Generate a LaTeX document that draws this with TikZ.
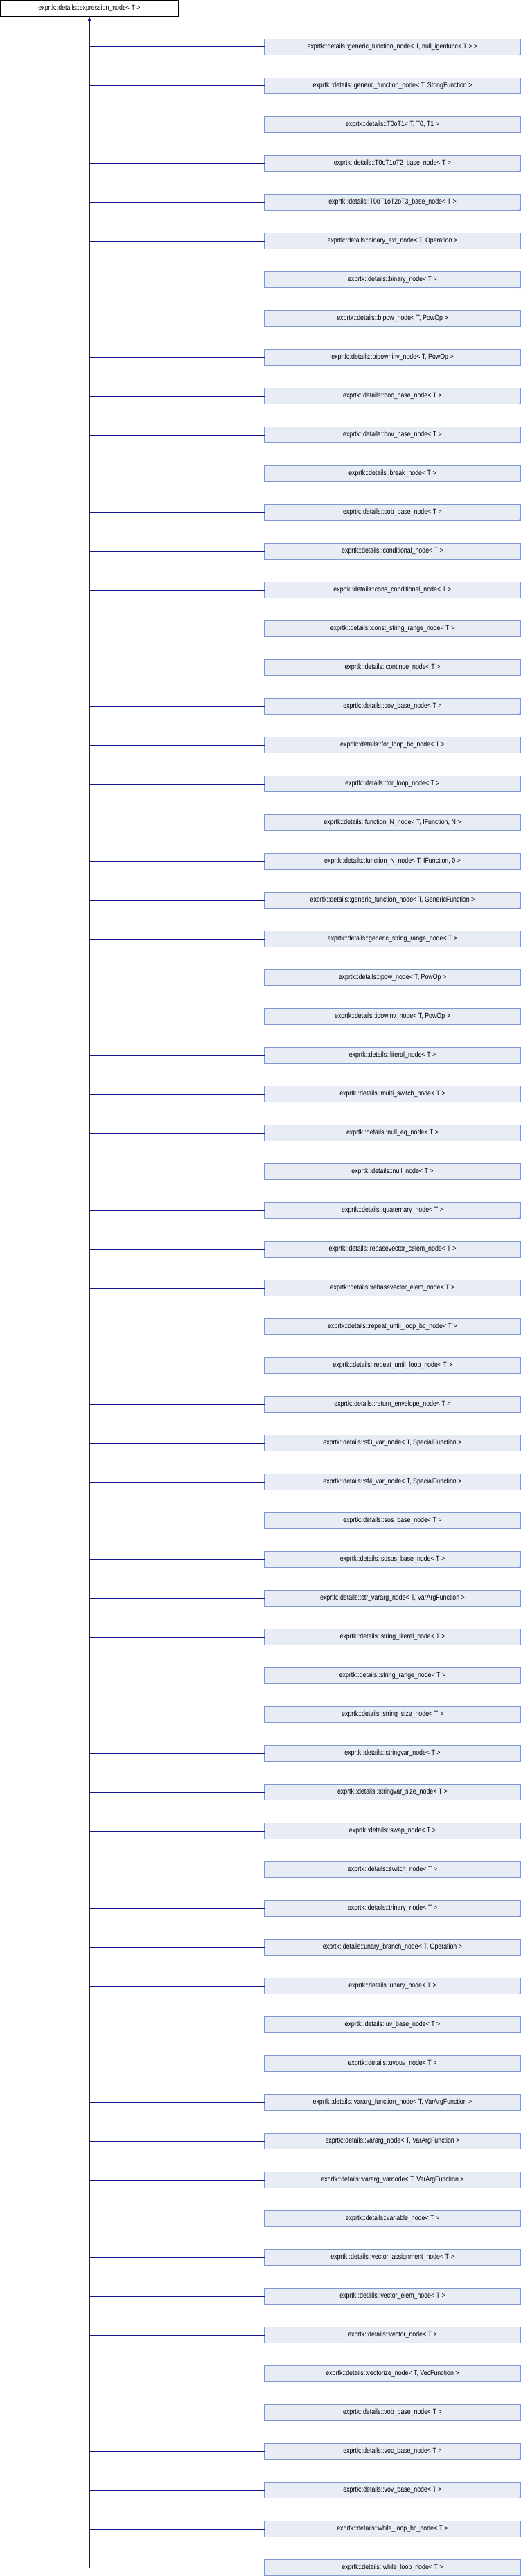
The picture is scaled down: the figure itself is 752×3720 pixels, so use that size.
\documentclass[tikz,border=0pt]{standalone}
\usepackage{fontspec}
\setmainfont{Liberation Sans}[FakeStretch=0.84]
\usetikzlibrary{arrows.meta}
\definecolor{clsfill}{RGB}{232,236,245}
\definecolor{clsborder}{RGB}{128,150,204}
\definecolor{linkblue}{RGB}{20,20,140}
\begin{document}
\begin{tikzpicture}[x=1pt,y=-1pt,line cap=rect,
    basebox/.style={draw=black,fill=white,line width=1pt,minimum width=257pt,minimum height=23pt,inner sep=0pt,font=\fontsize{10.5}{12}\selectfont},
    clsbox/.style={draw=clsborder,fill=clsfill,line width=1pt,minimum width=370pt,minimum height=23pt,inner sep=0pt,font=\fontsize{10.5}{12}\selectfont},
    link/.style={draw=linkblue,line width=1pt}]
  \useasboundingbox (0,0) rectangle (752,3720);
  \node[basebox] (expr) at (129,12) {exprtk::details::expression\_node< T >};
  \foreach \lab/\more [count=\i] in {
      {generic\_function\_node< T, null\_igenfunc< T > >}/1,
      {generic\_function\_node< T, StringFunction >}/1,
      {T0oT1< T, T0, T1 >}/1,
      {T0oT1oT2\_base\_node< T >}/1,
      {T0oT1oT2oT3\_base\_node< T >}/1,
      {binary\_ext\_node< T, Operation >}/0,
      {binary\_node< T >}/1,
      {bipow\_node< T, PowOp >}/0,
      {bipowninv\_node< T, PowOp >}/0,
      {boc\_base\_node< T >}/1,
      {bov\_base\_node< T >}/1,
      {break\_node< T >}/0,
      {cob\_base\_node< T >}/1,
      {conditional\_node< T >}/0,
      {cons\_conditional\_node< T >}/0,
      {const\_string\_range\_node< T >}/0,
      {continue\_node< T >}/0,
      {cov\_base\_node< T >}/1,
      {for\_loop\_bc\_node< T >}/0,
      {for\_loop\_node< T >}/0,
      {function\_N\_node< T, IFunction, N >}/0,
      {function\_N\_node< T, IFunction, 0 >}/0,
      {generic\_function\_node< T, GenericFunction >}/1,
      {generic\_string\_range\_node< T >}/0,
      {ipow\_node< T, PowOp >}/0,
      {ipowinv\_node< T, PowOp >}/0,
      {literal\_node< T >}/0,
      {multi\_switch\_node< T >}/0,
      {null\_eq\_node< T >}/0,
      {null\_node< T >}/0,
      {quaternary\_node< T >}/1,
      {rebasevector\_celem\_node< T >}/0,
      {rebasevector\_elem\_node< T >}/0,
      {repeat\_until\_loop\_bc\_node< T >}/0,
      {repeat\_until\_loop\_node< T >}/0,
      {return\_envelope\_node< T >}/0,
      {sf3\_var\_node< T, SpecialFunction >}/0,
      {sf4\_var\_node< T, SpecialFunction >}/0,
      {sos\_base\_node< T >}/1,
      {sosos\_base\_node< T >}/1,
      {str\_vararg\_node< T, VarArgFunction >}/0,
      {string\_literal\_node< T >}/0,
      {string\_range\_node< T >}/0,
      {string\_size\_node< T >}/0,
      {stringvar\_node< T >}/0,
      {stringvar\_size\_node< T >}/0,
      {swap\_node< T >}/0,
      {switch\_node< T >}/1,
      {trinary\_node< T >}/1,
      {unary\_branch\_node< T, Operation >}/0,
      {unary\_node< T >}/1,
      {uv\_base\_node< T >}/1,
      {uvouv\_node< T >}/0,
      {vararg\_function\_node< T, VarArgFunction >}/0,
      {vararg\_node< T, VarArgFunction >}/0,
      {vararg\_varnode< T, VarArgFunction >}/0,
      {variable\_node< T >}/0,
      {vector\_assignment\_node< T >}/0,
      {vector\_elem\_node< T >}/0,
      {vector\_node< T >}/0,
      {vectorize\_node< T, VecFunction >}/0,
      {vob\_base\_node< T >}/1,
      {voc\_base\_node< T >}/1,
      {vov\_base\_node< T >}/1,
      {while\_loop\_bc\_node< T >}/0,
      {while\_loop\_node< T >}/0}{
    \node[clsbox] (c\i) at (566.5,{68+56*(\i-1)}) {exprtk::details::\lab};
    \ifnum\more=1 \fill[clsborder] (c\i.south east) -- ++(-4,0) -- ++(4,-4) -- cycle; \fi
    \draw[link] (c\i.west) -- (c\i.west -| expr.south);
  }
  % trunk up to the base class
  \coordinate (trunkend) at (c66.west -| expr.south);
  \draw[link,-{Triangle[length=6pt,width=4pt]}] (trunkend) -- (expr.south);
\end{tikzpicture}
\end{document}
